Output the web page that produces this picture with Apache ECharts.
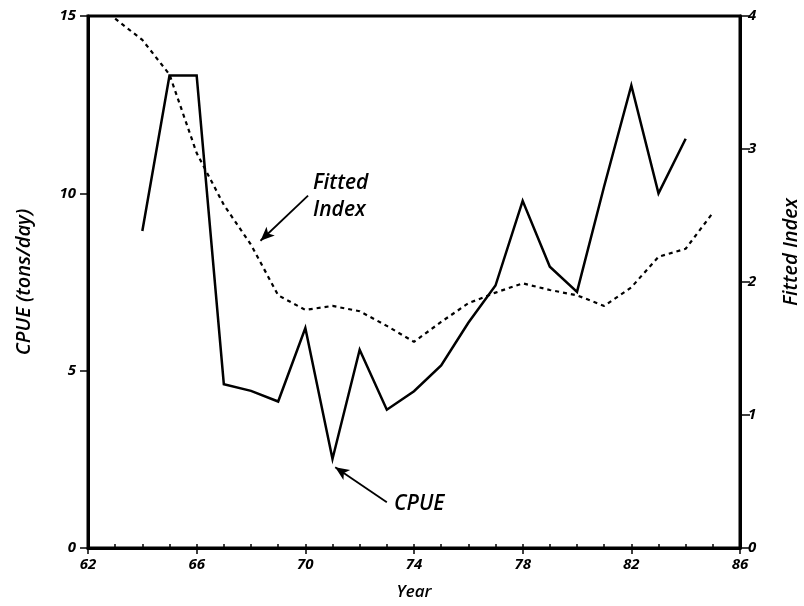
<!DOCTYPE html>
<html><head><meta charset="utf-8">
<script src="https://cdn.jsdelivr.net/npm/echarts@6/dist/echarts.min.js"></script>
<style>html,body{margin:0;padding:0;background:#fff}#c{width:804px;height:606px}</style>
</head><body><div id="c"></div>
<script>
var cpueYears = [64,65,66,67,68,69,70,71,72,73,74,75,76,77,78,79,80,81,82,83,84];
var cpueValues = [8.94,13.32,13.32,4.62,4.43,4.13,6.2,2.51,5.59,3.9,4.42,5.15,6.35,7.4,9.79,7.93,7.22,10.2,13.04,10.0,11.54];
var fitYears = [63,64,65,66,67,68,69,70,71,72,73,74,75,76,77,78,79,80,81,82,83,84,85];
var fitValues = [3.98,3.82,3.56,2.97,2.58,2.28,1.90,1.79,1.82,1.78,1.67,1.55,1.70,1.84,1.92,1.99,1.94,1.90,1.82,1.96,2.19,2.25,2.52];
var xTicks = [62,66,70,74,78,82,86];
var leftTicks = [0,5,10,15];
var rightTicks = [0,1,2,3,4];

var FONT = 'Open Sans';
var tickLabel = {color:'#000', fontFamily:FONT, fontStyle:'italic', fontWeight:'bold', fontSize:15};

var chart = echarts.init(document.getElementById('c'), null, {renderer:'canvas'});
chart.setOption({
  animation:false,
  backgroundColor:'#fff',
  grid:{left:88, right:64, top:16, bottom:55, show:true, borderColor:'#000', borderWidth:3, backgroundColor:'transparent'},
  xAxis:[{
    type:'value', min:xTicks[0], max:xTicks[xTicks.length-1], interval:4, position:'bottom',
    name:'Year', nameLocation:'middle', nameGap:36,
    nameTextStyle:{color:'#000', fontFamily:FONT, fontStyle:'italic', fontWeight:600, fontSize:17},
    axisLine:{show:true, lineStyle:{color:'#000', width:3}},
    axisTick:{show:true, length:6, lineStyle:{color:'#000', width:1.5}},
    axisLabel:Object.assign({margin:9}, tickLabel),
    splitLine:{show:false}
  },{
    type:'value', min:xTicks[0], max:xTicks[xTicks.length-1], interval:1, position:'bottom',
    axisLine:{show:false},
    axisTick:{show:true, inside:true, length:4, lineStyle:{color:'#000', width:1.5}},
    axisLabel:{show:false}, splitLine:{show:false}
  }],
  yAxis:[{
    type:'value', min:0, max:15, interval:5, position:'left',
    name:'CPUE (tons/day)', nameLocation:'middle', nameGap:54,
    nameTextStyle:{color:'#000', fontFamily:FONT, fontStyle:'italic', fontWeight:600, fontSize:20},
    axisLine:{show:true, lineStyle:{color:'#000', width:3}},
    axisTick:{show:true, length:8, lineStyle:{color:'#000', width:1.5}},
    axisLabel:Object.assign({margin:12}, tickLabel),
    splitLine:{show:false}
  },{
    type:'value', min:0, max:4, interval:1, position:'right',
    axisLine:{show:true, lineStyle:{color:'#000', width:3}},
    axisTick:{show:true, length:10, lineStyle:{color:'#000', width:1.5}},
    axisLabel:Object.assign({margin:8}, tickLabel),
    splitLine:{show:false}
  }],
  series:[{
    name:'CPUE', type:'line', xAxisIndex:0, yAxisIndex:0,
    data:cpueYears.map(function(y,i){return [y, cpueValues[i]];}),
    showSymbol:false, lineStyle:{color:'#000', width:2.5, join:'miter'},
    markLine:{silent:true, symbol:['none','arrow'], symbolSize:[9,14],
      lineStyle:{color:'#000', width:1.8, type:'solid'}, label:{show:false},
      data:[[{coord:[73.0,1.29]},{coord:[71.1,2.28]}]]}
  },{
    name:'Fitted Index', type:'line', xAxisIndex:0, yAxisIndex:1,
    data:fitYears.map(function(y,i){return [y, fitValues[i]];}),
    showSymbol:false, lineStyle:{color:'#000', width:2.2, type:[4,4]},
    markLine:{silent:true, symbol:['none','arrow'], symbolSize:[9,14],
      lineStyle:{color:'#000', width:1.8, type:'solid'}, label:{show:false},
      data:[[{coord:[70.1,2.65]},{coord:[68.35,2.31]}]]}
  }],
  graphic:[
    {type:'text', left:313, top:170, style:{text:'Fitted\nIndex', fill:'#000', font:'italic 600 21px "Open Sans"', lineHeight:27}},
    {type:'text', left:394, top:494, style:{text:'CPUE', fill:'#000', font:'italic 600 21px "Open Sans"'}},
    {type:'text', x:791, y:252, rotation:Math.PI/2, style:{text:'Fitted Index', fill:'#000', font:'italic 600 20px "Open Sans"', align:'center', verticalAlign:'middle'}}
  ]
});
</script></body></html>
